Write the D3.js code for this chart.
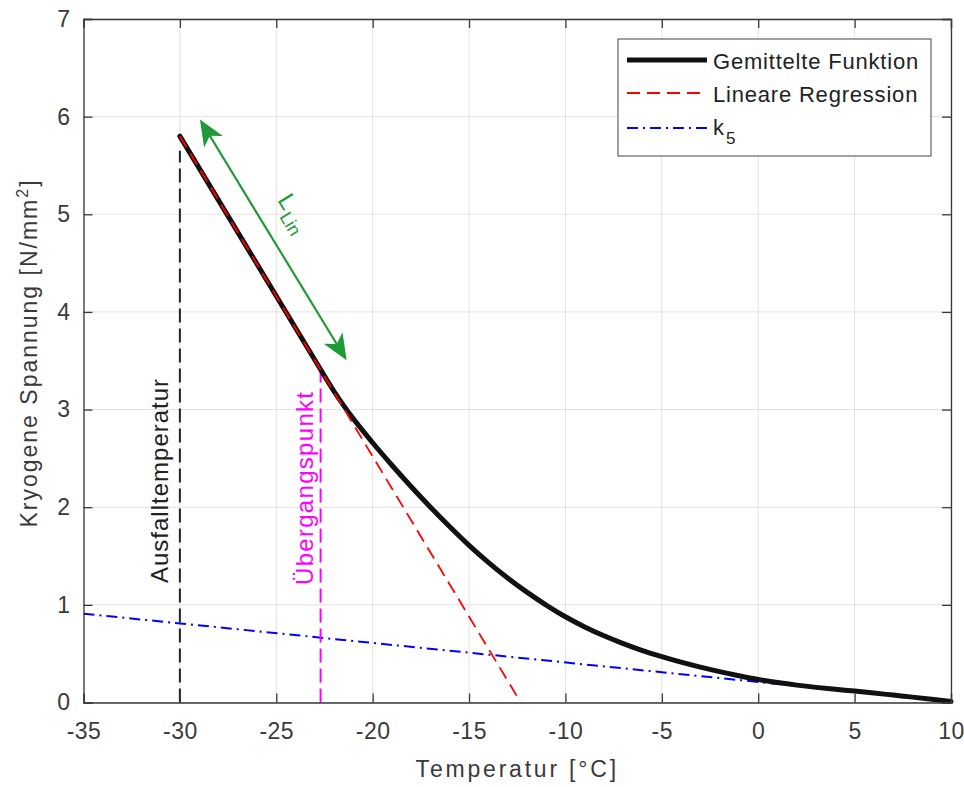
<!DOCTYPE html>
<html>
<head>
<meta charset="utf-8">
<script src="https://cdn.jsdelivr.net/npm/d3@7"></script>
<style>
  body { margin: 0; background: #fff; }
  svg text { font-family: "Liberation Sans", Arial, sans-serif; fill: #333; }
</style>
</head>
<body>
<div id="chart"></div>
<script>
// values
var temps  = [-30, -28, -26, -24, -22.7, -22, -21, -20, -19, -18, -17, -16, -15, -14, -13, -12, -11, -10,
              -9, -8, -7, -6, -5, -4, -3, -2, -1, 0, 1, 2, 3, 4, 5, 6, 7, 8, 9, 10];
var stress = [5.80, 5.145, 4.49, 3.835, 3.41, 3.185, 2.905, 2.66, 2.43, 2.21, 2.00, 1.80, 1.61, 1.435, 1.275, 1.13, 0.998, 0.878,
              0.774, 0.683, 0.603, 0.532, 0.47, 0.413, 0.362, 0.316, 0.274, 0.236, 0.205, 0.178, 0.155, 0.135, 0.117,
              0.097, 0.076, 0.055, 0.033, 0.01];
var regX = [-30, -12.5];
var regY = [5.80, 0.06];
var k5X = [-35, 5];
var k5Y = [0.91, 0.11];
var failTemp = -30, failTop = 5.65;
var transTemp = -22.7, transTop = 3.4;
var arrowFrom = [-28.96, 5.97], arrowTo = [-21.35, 3.505];
var xTicks = [-35, -30, -25, -20, -15, -10, -5, 0, 5, 10];
var yTicks = [0, 1, 2, 3, 4, 5, 6, 7];

var width = 964, height = 787;
var pLeft = 83.5, pRight = 951, pTop = 19, pBottom = 702.5;

var svg = d3.select("#chart").append("svg").attr("width", width).attr("height", height);

var x = d3.scaleLinear().domain([-35, 10]).range([pLeft, pRight]);
var y = d3.scaleLinear().domain([0, 7]).range([pBottom, pTop]);

// grid
var grid = svg.append("g").attr("stroke", "#e2e2e2").attr("stroke-width", 1);
grid.selectAll(".gx").data(xTicks).join("line")
  .attr("x1", d => x(d)).attr("x2", d => x(d)).attr("y1", pTop).attr("y2", pBottom);
grid.selectAll(".gy").data(yTicks).join("line")
  .attr("y1", d => y(d)).attr("y2", d => y(d)).attr("x1", pLeft).attr("x2", pRight);

var line = d3.line().x(d => x(d[0])).y(d => y(d[1]));

// k5
svg.append("path").datum(d3.zip(k5X, k5Y)).attr("d", line)
  .attr("fill", "none").attr("stroke", "#0000ff").attr("stroke-width", 2)
  .attr("stroke-dasharray", "11,5,2,5");

// vertical markers
svg.append("line").attr("x1", x(failTemp)).attr("x2", x(failTemp))
  .attr("y1", y(0)).attr("y2", y(failTop))
  .attr("stroke", "#222").attr("stroke-width", 2).attr("stroke-dasharray", "14,6");
svg.append("line").attr("x1", x(transTemp)).attr("x2", x(transTemp))
  .attr("y1", y(0)).attr("y2", y(transTop))
  .attr("stroke", "#ff00ff").attr("stroke-width", 2).attr("stroke-dasharray", "14,6");

// averaged function
svg.append("path").datum(d3.zip(temps, stress))
  .attr("d", line.curve(d3.curveMonotoneX))
  .attr("fill", "none").attr("stroke", "#111").attr("stroke-width", 5).attr("stroke-linecap", "round");
line.curve(d3.curveLinear);

// regression
svg.append("path").datum(d3.zip(regX, regY)).attr("d", line)
  .attr("fill", "none").attr("stroke", "#ff0000").attr("stroke-width", 1.8)
  .attr("stroke-dasharray", "13,7");

// text labels on markers
svg.append("text")
  .attr("transform", "translate(" + (x(failTemp) - 12) + "," + 583 + ") rotate(-90)")
  .attr("font-size", 24).attr("letter-spacing", 1).style("fill", "#222")
  .text("Ausfalltemperatur");
svg.append("text")
  .attr("transform", "translate(" + (x(transTemp) - 8) + "," + 585 + ") rotate(-90)")
  .attr("font-size", 24).attr("letter-spacing", 1.3).style("fill", "#ff00ff")
  .text("Übergangspunkt");

// green double arrow
var green = "#1f9a36";
var ax1 = x(arrowFrom[0]), ay1 = y(arrowFrom[1]), ax2 = x(arrowTo[0]), ay2 = y(arrowTo[1]);
var ang = Math.atan2(ay2 - ay1, ax2 - ax1);
var headL = 26, headW = 11, notch = 19;
svg.append("line")
  .attr("x1", ax1 + Math.cos(ang) * notch).attr("y1", ay1 + Math.sin(ang) * notch)
  .attr("x2", ax2 - Math.cos(ang) * notch).attr("y2", ay2 - Math.sin(ang) * notch)
  .attr("stroke", green).attr("stroke-width", 2.2);
function head(tx, ty, a) {
  var ux = Math.cos(a), uy = Math.sin(a), px = -uy, py = ux;
  var pts = [
    [tx, ty],
    [tx + ux * headL + px * headW, ty + uy * headL + py * headW],
    [tx + ux * notch, ty + uy * notch],
    [tx + ux * headL - px * headW, ty + uy * headL - py * headW]
  ];
  svg.append("path").attr("d", "M" + pts.map(p => p.join(",")).join("L") + "Z").attr("fill", green);
}
head(ax1, ay1, ang);
head(ax2, ay2, ang + Math.PI);

var lab = svg.append("text")
  .attr("transform", "translate(277,200) rotate(" + (ang * 180 / Math.PI) + ")")
  .attr("font-size", 24).style("fill", green);
lab.append("tspan").text("L");
lab.append("tspan").attr("dx", 2).attr("dy", 7).attr("font-size", 18).text("Lin");

// axes
var fmt = d => String(d);
svg.append("g").attr("transform", "translate(0," + pBottom + ")")
  .call(d3.axisBottom(x).tickValues(xTicks).tickSize(-9).tickPadding(20).tickFormat(fmt));
svg.append("g").attr("transform", "translate(" + pLeft + ",0)")
  .call(d3.axisLeft(y).tickValues(yTicks).tickSize(-9).tickPadding(13).tickFormat(fmt));
svg.append("g").attr("transform", "translate(0," + pTop + ")")
  .call(d3.axisTop(x).tickValues(xTicks).tickSize(-9).tickFormat(""));
svg.append("g").attr("transform", "translate(" + pRight + ",0)")
  .call(d3.axisRight(y).tickValues(yTicks).tickSize(-9).tickFormat(""));
svg.selectAll(".domain").attr("stroke", "#3a3a3a").attr("stroke-width", 1.3);
svg.selectAll(".tick line").attr("stroke", "#3a3a3a").attr("stroke-width", 1.3);
svg.selectAll(".tick text").attr("font-size", 23).attr("letter-spacing", 0.5)
  .style("fill", "#3a3a3a").attr("font-family", null);

// axis titles
svg.append("text").attr("x", (pLeft + pRight) / 2).attr("y", 777)
  .attr("text-anchor", "middle").attr("font-size", 23).attr("letter-spacing", 2.8)
  .style("fill", "#3a3a3a").text("Temperatur [°C]");
var yt = svg.append("text").attr("transform", "translate(37,353) rotate(-90)")
  .attr("text-anchor", "middle").attr("font-size", 23).attr("letter-spacing", 2)
  .style("fill", "#3a3a3a");
yt.append("tspan").text("Kryogene Spannung [N/mm");
yt.append("tspan").attr("dy", -9).attr("font-size", 16).text("2");
yt.append("tspan").attr("dy", 9).text("]");

// legend
var leg = svg.append("g");
leg.append("rect").attr("x", 618).attr("y", 39).attr("width", 313).attr("height", 117)
  .attr("fill", "#fff").attr("stroke", "#444").attr("stroke-width", 1);
var legItems = [
  {y: 60, color: "#111", w: 5, dash: null},
  {y: 93, color: "#ff0000", w: 1.8, dash: "13,7"},
  {y: 128, color: "#0000ff", w: 2, dash: "11,5,2,5"}
];
legItems.forEach(function(d) {
  leg.append("line").attr("x1", 627).attr("x2", 707).attr("y1", d.y).attr("y2", d.y)
    .attr("stroke", d.color).attr("stroke-width", d.w).attr("stroke-dasharray", d.dash);
});
leg.append("text").attr("x", 713).attr("y", 69).attr("font-size", 22).attr("letter-spacing", 0.8)
  .style("fill", "#222").text("Gemittelte Funktion");
leg.append("text").attr("x", 713).attr("y", 102).attr("font-size", 22).attr("letter-spacing", 0.8)
  .style("fill", "#222").text("Lineare Regression");
var kt = leg.append("text").attr("x", 713).attr("y", 135).attr("font-size", 22).style("fill", "#222");
kt.append("tspan").text("k");
kt.append("tspan").attr("dx", 2).attr("dy", 9).attr("font-size", 17).text("5");
</script>
</body>
</html>
